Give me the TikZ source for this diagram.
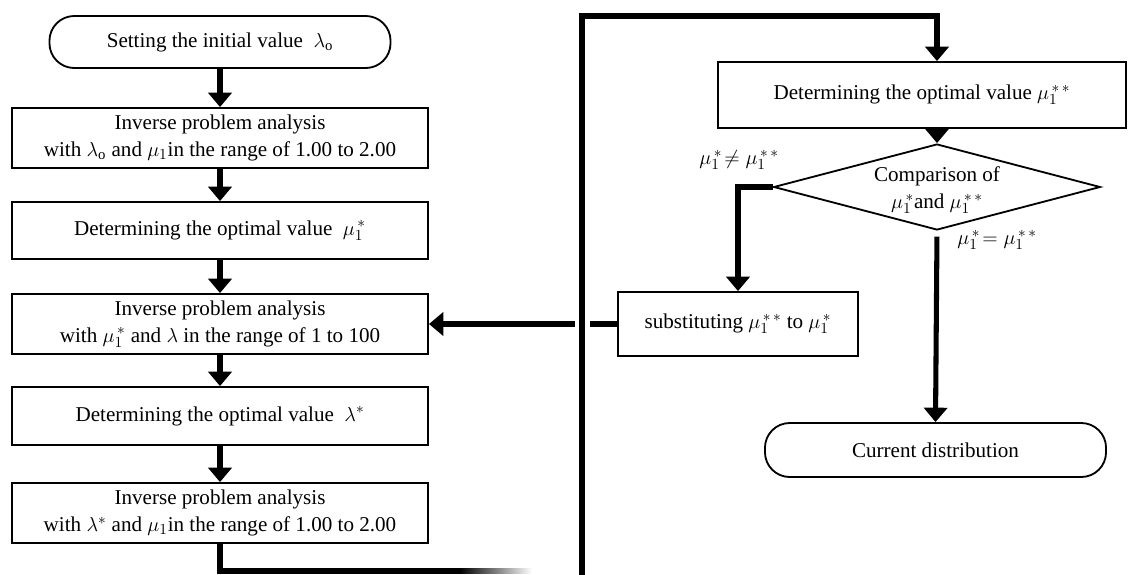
\documentclass[tikz,border=0pt]{standalone}
\usepackage{fontspec}
\setmainfont{Liberation Serif}
\usetikzlibrary{arrows.meta, shapes.geometric, positioning}

\begin{document}
\begin{tikzpicture}[x=0.025cm,y=-0.025cm,
    box/.style={draw, line width=1.3pt, inner sep=0pt, align=center, font=\fontsize{15}{19}\selectfont},
    term/.style={box, rounded corners=0.62cm},
    decision/.style={box, diamond, aspect=3.8},
    lbl/.style={inner sep=0pt, font=\fontsize{15}{19}\selectfont},
    link/.style={line width=3.6pt},
    flow/.style={link, -{Triangle[length=0.36cm,width=0.58cm]}}]
    \useasboundingbox (0,0) rectangle (1129,574);

    % Draw the left column
    \node[term, minimum width=8.525cm, minimum height=1.3cm] (start) at (220,42) {Setting the initial value \ $\lambda_{\mathrm{o}}$};
    \node[box, minimum width=10.4cm, minimum height=1.5cm] (inv1) at (220,138)
        {Inverse problem analysis\\ with $\lambda_{\mathrm{o}}$ and $\mu_1$in the range of 1.00 to 2.00};
    \node[box, minimum width=10.4cm, minimum height=1.425cm] (opt1) at (220,230.5) {Determining the optimal value \ $\mu_1^{\,*}$};
    \node[box, minimum width=10.4cm, minimum height=1.5cm] (inv2) at (220,324)
        {Inverse problem analysis\\ with $\mu_1^{\,*}$ and $\lambda$ in the range of 1 to 100};
    \node[box, minimum width=10.4cm, minimum height=1.45cm] (optl) at (220,416) {Determining the optimal value \ $\lambda^{*}$};
    \node[box, minimum width=10.4cm, minimum height=1.5cm] (inv3) at (220,513)
        {Inverse problem analysis\\ with $\lambda^{*}$ and $\mu_1$in the range of 1.00 to 2.00};

    % Draw the right column
    \node[box, minimum width=10.2cm, minimum height=1.65cm] (opt2) at (922,95) {Determining the optimal value $\mu_1^{\,*\,*}$};
    \node[decision, minimum width=7.875cm, minimum height=2.1cm] (cmp) at (937,187)
        {\\[-4pt]Comparison of\\ $\mu_1^{\,*}$and $\mu_1^{\,*\,*}$};
    \node[box, minimum width=6cm, minimum height=1.6cm] (subst) at (738,324) {substituting $\mu_1^{\,*\,*}$ to $\mu_1^{\,*}$};
    \node[term, minimum width=8.525cm, minimum height=1.35cm] (stop) at (935.5,450) {Current distribution};

    % Label the branches
    \node[lbl] (neq) at (739,160) {$\mu_1^{\,*}\!\neq\mu_1^{\,*\,*}$};
    \node[lbl] (eq) at (997,240) {$\mu_1^{\,*}\!=\mu_1^{\,*\,*}$};

    % Draw the arrows
    \draw[flow] (start) -- (inv1);
    \draw[flow] (inv1) -- (opt1);
    \draw[flow] (opt1) -- (inv2);
    \draw[flow] (inv2) -- (optl);
    \draw[flow] (optl) -- (inv3);
    \draw[flow] (cmp.north |- opt2.south) -- (cmp.north);
    \draw[flow] (cmp.west) -| (subst.north);
    \draw[flow, shorten <=4] (cmp.south) -- (stop.north);

    % Loop back, with a hop over the long line
    \coordinate (hopR) at (590,324);
    \coordinate (hopL) at (575,324);
    \draw[link] (subst.west) -- (hopR);
    \draw[flow] (hopL) -- (inv2.east);
    \coordinate (loopB) at (582,576);
    \coordinate (loopT) at (582,16);
    \draw[flow] (loopB) -- (loopT) -| (cmp.north |- opt2.north);

    % Bottom line fades out
    \coordinate (fadeA) at (460,571);
    \draw[link] (inv3.south) |- (fadeA);
    \shade[left color=black, right color=white] (460,568.5) rectangle (532,573.5);
\end{tikzpicture}
\end{document}
